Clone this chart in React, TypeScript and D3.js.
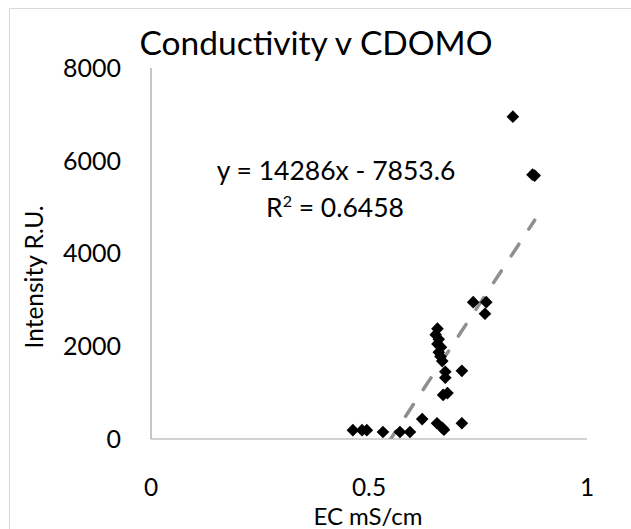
import React from "react";
import * as d3 from "d3";

// EC (mS/cm) vs CDOM intensity
const ecValues = [
    0.830, 0.875, 0.880,
    0.739, 0.769, 0.766,
    0.657, 0.653, 0.660, 0.657, 0.665, 0.660, 0.664, 0.668,
    0.675, 0.675, 0.713,
    0.680, 0.670,
    0.622, 0.656, 0.668, 0.672, 0.713,
    0.463, 0.484, 0.495, 0.532, 0.571, 0.594
];
const intensityValues = [
    6950, 5700, 5680,
    2950, 2950, 2700,
    2380, 2250, 2150, 2050, 1980, 1870, 1780, 1680,
    1450, 1320, 1470,
    990, 950,
    430, 340, 240, 200, 340,
    190, 190, 190, 150, 150, 150
];

const xTicks = [0, 0.5, 1];
const yTicks = [0, 2000, 4000, 6000, 8000];

const slope = 14286;
const intercept = -7853.6;
const equationLabel = "y = 14286x - 7853.6";
const rSquaredLabel = "0.6458";

const WIDTH = 631;
const HEIGHT = 529;
const FONT = "Lato, 'Open Sans', sans-serif";

export default function App() {
    const margin = { top: 68, right: 44, bottom: 90, left: 151 };

    const x = d3.scaleLinear([0, 1], [margin.left, WIDTH - margin.right]);
    const y = d3.scaleLinear([0, 8000], [HEIGHT - margin.bottom, margin.top]);

    const points = ecValues.map((ec, i) => ({ ec, intensity: intensityValues[i] }));

    // Excel style diamond = square turned 45 degrees
    const diamond = d3.symbol(d3.symbolSquare, 80)()!;

    // trend line across the data range, clipped to the plot area below
    const [xMin, xMax] = d3.extent(ecValues) as [number, number];
    const trendLine = d3.line<number>()
        .x((d) => x(d))
        .y((d) => y(slope * d + intercept));

    return <div style={{ position: "absolute", left: 0, top: 0 }}>
        <svg width={WIDTH} height={HEIGHT} style={{ display: "block", fontFamily: FONT }}>
            <defs>
                <clipPath id="plot-clip">
                    <rect x={margin.left} y={margin.top}
                        width={WIDTH - margin.left - margin.right}
                        height={HEIGHT - margin.top - margin.bottom} />
                </clipPath>
            </defs>

            <rect x={0} y={0} width={WIDTH} height={HEIGHT} fill="white" />
            {/* chart area border, runs off the right and bottom edges */}
            <rect x={9.5} y={8.5} width={WIDTH + 20} height={HEIGHT + 20}
                fill="none" stroke="#d9d9d9" strokeWidth={1} />

            <text x={316} y={55} textAnchor="middle" fontSize={33.5} fill="#000">
                Conductivity v CDOMO
            </text>

            <g name="axes">
                <line x1={x(0)} x2={x(0)} y1={y(8000)} y2={y(0)} stroke="#8c8c8c" strokeWidth={1} />
                <line x1={x(0)} x2={x(1)} y1={y(0)} y2={y(0)} stroke="#a6a6a6" strokeWidth={1.2} />
            </g>

            <g name="yTicks">
                {yTicks.map((tick) => (
                    <text key={tick} x={121} y={y(tick)} dy="0.35em" textAnchor="end"
                        fontSize={25} fill="#000">{tick}</text>
                ))}
            </g>
            <g name="xTicks">
                {xTicks.map((tick) => (
                    <text key={tick} x={x(tick)} y={496} textAnchor="middle"
                        fontSize={24.5} fill="#000">{tick}</text>
                ))}
            </g>

            <text x={368} y={525} textAnchor="middle" fontSize={24} fill="#000">EC mS/cm</text>
            <text transform="translate(43,277) rotate(-90)" textAnchor="middle"
                fontSize={24.5} fill="#000">Intensity R.U.</text>

            <g clipPath="url(#plot-clip)">
                <path d={trendLine([xMin, xMax])!} fill="none" stroke="#8f8f8f"
                    strokeWidth={3.5} strokeDasharray="14 18" strokeLinecap="round" />
            </g>

            <g name="points">
                {points.map((p, i) => (
                    <path key={i} d={diamond}
                        transform={`translate(${x(p.ec)},${y(p.intensity)}) rotate(45)`}
                        fill="#000" />
                ))}
            </g>

            <text x={336} y={180} textAnchor="middle" fontSize={26.5} fill="#000">{equationLabel}</text>
            <text x={335} y={217} textAnchor="middle" fontSize={26.5} fill="#000">
                R<tspan dy={-10} fontSize={16}>2</tspan><tspan dy={10}> = {rSquaredLabel}</tspan>
            </text>
        </svg>
    </div>;
}
